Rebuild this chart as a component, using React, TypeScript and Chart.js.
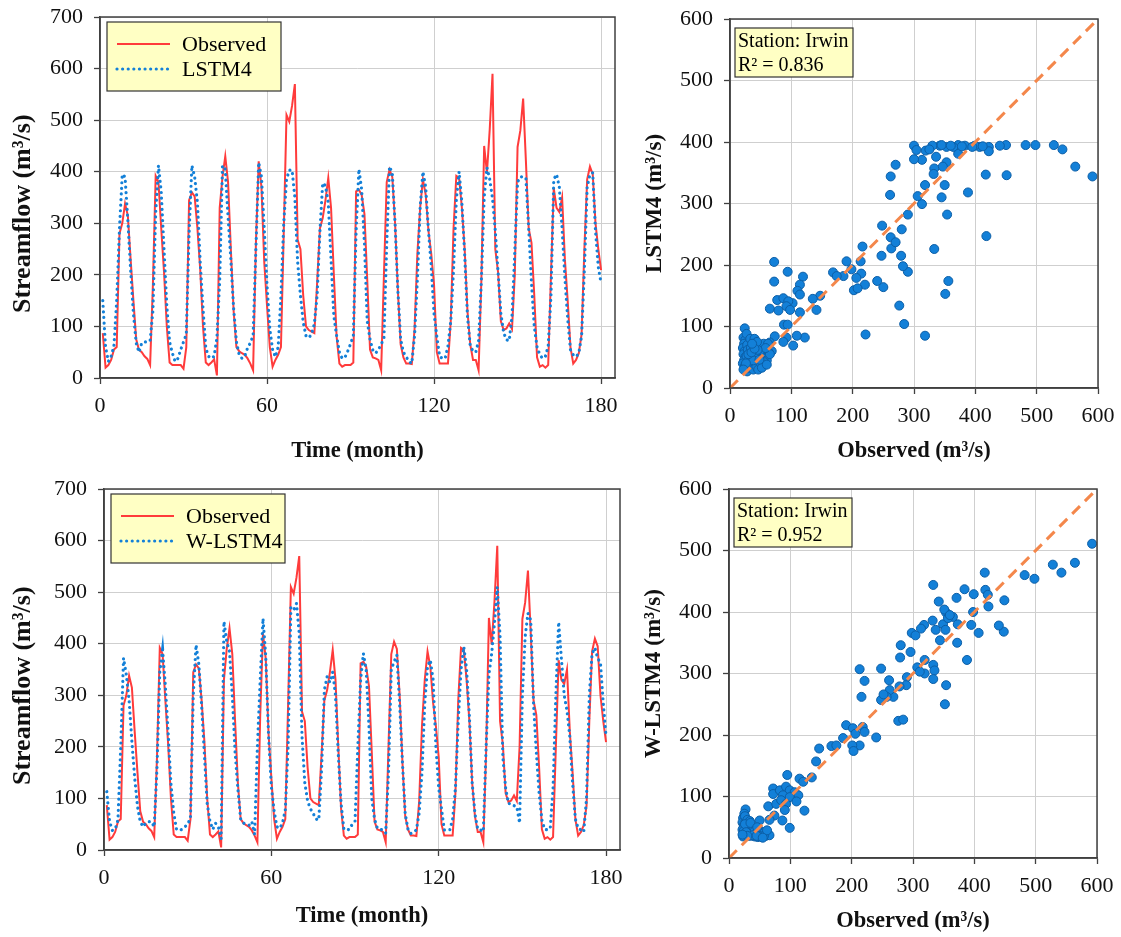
import React, { useEffect, useRef } from "react";
import { Chart, registerables } from "chart.js";
Chart.register(...registerables);

const SERIF = "'Liberation Serif', 'Times New Roman', serif";
const RED = "#ff3b3b";
const BLUE = "#1380d8";
const ORANGE = "#f4874b";
const GRID = "#cfcfcf";
const AXIS = "#404040";
const LEGEND_BG = "#ffffc4";

const timeTicks = [0, 60, 120, 180];
const flowTicks = [0, 100, 200, 300, 400, 500, 600, 700];
const scatterTicks = [0, 100, 200, 300, 400, 500, 600];

const timeTitle = "Time (month)";
const flowTitle = "Streamflow (m³/s)     ";
const obsTitle = "Observed (m³/s)";
const lstmTitle = "LSTM4 (m³/s)";
const wlstmTitle = "W-LSTM4 (m³/s)";
const observedLabel = "Observed";
const lstmLabel = "LSTM4";
const wlstmLabel = "W-LSTM4";
const stationText = "Station: Irwin";
const r2Lstm = "R² = 0.836";
const r2Wlstm = "R² = 0.952";

// monthly streamflow, months 1..180
const observed = [
  87, 20, 25, 35, 55, 60, 280, 300, 338, 315, 230, 150,
  75, 55, 50, 42, 37, 25, 180, 392, 380, 290, 205, 100,
  30, 25, 25, 25, 25, 18, 60, 345, 360, 352, 290, 210,
  100, 30, 25, 30, 36, 5, 330, 390, 430, 380, 250, 130,
  60, 52, 48, 45, 38, 28, 15, 260, 420, 370, 225, 140,
  60, 22, 35, 45, 60, 280, 510, 497, 528, 570, 268, 250,
  160, 100, 93, 90, 87, 185, 290, 310, 345, 388, 330, 200,
  80, 28, 22, 25, 25, 25, 30, 362, 365, 355, 318, 190,
  55, 40, 38, 35, 15, 200, 380, 404, 390, 300, 170, 65,
  40, 28, 28, 27, 95, 240, 330, 385, 355, 285, 240, 180,
  50, 28, 28, 28, 28, 110, 290, 392, 388, 330, 250, 130,
  65, 35, 35, 15, 190, 450, 398, 482, 590, 250, 205, 110,
  93, 96, 106, 95, 200, 448, 480, 542, 420, 290, 262, 160,
  40, 22, 25, 20, 25, 200, 368, 330, 322, 350, 230, 150,
  60, 28, 35, 48, 85, 250, 385, 410, 395, 300, 250, 209,
];

const lstm4 = [
  150, 60, 32, 42, 62, 150, 290, 395, 390, 306, 210, 125,
  68, 50, 68, 70, 70, 72, 130, 320, 412, 360, 250, 140,
  70, 48, 32, 38, 55, 70, 85, 280, 412, 390, 340, 225,
  135, 58, 42, 38, 42, 78, 190, 412, 405, 313, 230, 135,
  70, 45, 38, 42, 58, 68, 82, 250, 418, 390, 290, 180,
  95, 55, 41, 60, 160, 300, 385, 403, 403, 350, 225, 160,
  108, 82, 78, 85, 105, 160, 285, 378, 373, 340, 230, 120,
  82, 50, 38, 40, 52, 66, 82, 285, 405, 365, 260, 110,
  75, 54, 48, 55, 65, 78, 260, 410, 397, 300, 170, 75,
  50, 41, 32, 28, 82, 190, 330, 400, 370, 285, 215, 125,
  80, 42, 38, 38, 62, 110, 210, 345, 400, 340, 240, 120,
  62, 52, 50, 72, 190, 350, 408, 385, 348, 285, 205, 125,
  88, 74, 72, 120, 245, 380, 390, 390, 388, 290, 185, 100,
  60, 45, 38, 42, 62, 160, 385, 395, 370, 290, 195, 115,
  55, 45, 41, 48, 82, 210, 370, 395, 398, 285, 215, 184,
];

const wlstm4 = [
  113, 55, 38, 40, 58, 200, 372, 340, 290, 210, 140, 85,
  55, 45, 52, 55, 55, 45, 160, 345, 388, 318, 228, 128,
  72, 40, 38, 40, 45, 50, 62, 300, 398, 360, 280, 185,
  90, 55, 40, 52, 45, 22, 443, 405, 385, 300, 190, 118,
  60, 52, 50, 48, 55, 30, 200, 330, 449, 375, 222, 123,
  75, 45, 42, 52, 78, 200, 470, 465, 478, 420, 220, 130,
  95, 80, 71, 60, 58, 155, 310, 336, 325, 345, 300, 185,
  90, 40, 39, 40, 50, 56, 200, 330, 381, 349, 240, 100,
  60, 42, 40, 39, 33, 150, 350, 365, 378, 284, 170, 70,
  40, 32, 35, 39, 72, 150, 284, 356, 368, 330, 200, 120,
  80, 39, 39, 39, 60, 120, 250, 350, 394, 350, 260, 130,
  70, 40, 39, 36, 200, 340, 381, 440, 510, 414, 180, 120,
  90, 90, 86, 84, 52, 300, 414, 459, 446, 284, 190, 110,
  58, 40, 39, 42, 120, 300, 442, 370, 300, 270, 220, 130,
  60, 42, 39, 35, 100, 300, 381, 392, 372, 362, 284, 220,
];

// scatter pairs [observed, predicted]
const lstmScatter: [number, number][] = [
  [591, 344], [563, 360], [542, 388], [528, 395], [498, 395], [482, 395], [450, 395], [440, 394],
  [451, 346], [422, 392], [422, 385], [417, 347], [418, 247], [407, 392], [399, 394], [388, 318],
  [383, 394], [372, 395], [372, 381], [364, 392], [353, 392], [353, 367], [350, 330], [345, 310],
  [354, 282], [356, 174], [351, 153], [347, 360], [342, 394], [336, 376], [333, 357], [332, 348],
  [330, 394], [333, 226], [319, 386], [318, 330], [318, 85], [313, 371], [313, 299], [306, 312],
  [300, 394], [300, 372], [304, 387], [290, 282], [290, 189], [282, 198], [279, 215], [280, 258],
  [276, 134], [284, 104], [270, 363], [262, 344], [261, 314], [262, 245], [263, 227], [270, 237],
  [248, 264], [247, 215], [250, 164], [240, 174], [216, 230], [213, 206], [214, 186], [220, 168],
  [206, 179], [202, 159], [208, 162], [198, 193], [190, 206], [185, 182], [168, 188], [174, 182],
  [221, 87], [147, 150], [141, 127], [135, 145], [119, 181], [114, 168], [110, 158], [114, 152],
  [114, 123], [102, 138], [94, 189], [72, 205], [72, 173], [65, 129], [77, 143], [79, 126],
  [87, 146], [95, 141], [92, 133], [98, 127], [88, 103], [94, 103], [122, 82], [109, 85],
  [103, 69], [92, 82], [87, 75], [73, 84], [65, 74], [68, 60], [325, 388], [345, 395],
  [360, 394], [378, 393], [395, 392], [412, 393],
  [24, 97], [22, 82], [25, 78], [23, 72], [21, 65], [24, 60], [22, 55], [25, 50], [23, 45], [21, 40],
  [24, 35], [26, 30], [28, 27], [27, 88], [28, 70], [29, 62], [27, 52], [30, 45], [29, 38], [31, 33],
  [33, 80], [34, 65], [32, 55], [35, 48], [33, 42], [36, 35], [38, 30], [40, 80], [41, 72], [39, 58],
  [42, 50], [44, 42], [43, 35], [46, 30], [48, 70], [50, 62], [47, 55], [52, 48], [50, 40], [55, 72],
  [54, 60], [58, 50], [60, 45], [56, 42], [62, 72], [63, 58], [65, 55], [58, 65], [45, 62], [38, 45],
  [30, 55], [26, 40], [35, 58], [52, 33], [44, 75], [40, 64], [48, 46], [60, 38], [36, 72], [22, 30],
];

const wlstmScatter: [number, number][] = [
  [592, 511], [564, 480], [542, 464], [528, 477], [498, 454], [482, 460], [449, 419], [448, 368],
  [440, 378], [417, 464], [418, 436], [422, 428], [423, 409], [407, 366], [399, 429], [398, 400],
  [395, 379], [388, 322], [384, 437], [371, 423], [372, 350], [373, 380], [365, 392], [354, 399],
  [351, 404], [342, 417], [333, 444], [344, 354], [349, 380], [353, 371], [337, 371], [332, 386],
  [318, 379], [313, 373], [298, 366], [304, 362], [296, 335], [280, 346], [279, 326], [319, 322],
  [307, 310], [333, 314], [335, 305], [319, 300], [311, 303], [333, 291], [354, 281], [352, 250],
  [290, 294], [289, 281], [278, 279], [268, 262], [261, 289], [262, 273], [257, 262], [248, 257],
  [252, 266], [248, 308], [213, 307], [221, 288], [216, 262], [276, 223], [284, 225], [218, 213],
  [221, 205], [191, 216], [202, 211], [206, 202], [186, 195], [213, 183], [201, 183], [203, 174],
  [240, 196], [167, 182], [175, 183], [147, 178], [142, 157], [135, 131], [115, 129], [121, 124],
  [95, 135], [72, 113], [72, 104], [83, 110], [93, 116], [99, 110], [107, 107], [113, 102],
  [88, 102], [99, 99], [110, 92], [64, 84], [77, 88], [85, 94], [93, 88], [91, 78],
  [123, 77], [74, 69], [87, 61], [99, 49], [66, 62], [50, 61], [357, 390], [360, 395],
  [27, 79], [25, 72], [23, 65], [22, 58], [24, 52], [22, 46], [25, 40], [23, 35], [27, 60], [28, 50],
  [30, 44], [29, 38], [32, 55], [33, 48], [31, 40], [35, 36], [37, 52], [38, 45], [40, 40], [42, 35],
  [44, 48], [45, 42], [48, 38], [50, 45], [53, 37], [55, 40], [58, 42], [60, 36], [63, 40], [66, 37],
  [26, 68], [30, 62], [34, 60], [36, 42], [40, 50], [42, 44], [47, 34], [52, 35], [57, 36], [62, 45],
  [24, 44], [26, 55], [28, 42], [39, 37], [35, 57], [46, 50], [30, 36], [22, 38], [45, 36], [55, 33],
];

const diagonal = [0, 600];

type Geo = {
  yWidth: number; xHeight: number; padTop: number; padRight: number;
  yTitlePad: number; xTitlePad: number; tickPadY: number; tickPadX: number;
  yTitleSize: number;
};

function makeAxis(min: number, max: number, ticks: number[], title: string, horizontal: boolean, geo: Geo) {
  return {
    type: "linear" as const,
    min,
    max,
    afterBuildTicks: (s: any) => { s.ticks = ticks.map((v) => ({ value: v })); },
    afterFit: (s: any) => {
      if (horizontal) {
        s.height = geo.xHeight;
        s.paddingLeft = 0;
        s.paddingRight = 0;
      } else {
        s.width = geo.yWidth;
        s.paddingTop = 0;
        s.paddingBottom = 0;
      }
    },
    grid: { color: GRID, lineWidth: 1, drawTicks: true, tickLength: 6, tickColor: AXIS, tickWidth: 1.3 },
    border: { display: true, color: AXIS, width: 1.5 },
    ticks: {
      font: { family: SERIF, size: 22 },
      color: "#111",
      padding: horizontal ? geo.tickPadX : geo.tickPadY,
      maxRotation: 0,
      autoSkip: false,
      callback: (v: any) => String(v),
    },
    title: {
      display: true,
      text: title,
      color: "#111",
      font: { family: SERIF, size: horizontal ? 22.5 : geo.yTitleSize, weight: "bold" as const },
      padding: horizontal ? { top: 0, bottom: geo.xTitlePad } : { top: geo.yTitlePad, bottom: 0 },
    },
  };
}

function framePlugin(extra: (ctx: CanvasRenderingContext2D, area: any) => void) {
  return {
    id: "decor",
    afterDraw(chart: any) {
      const { ctx, chartArea: a } = chart;
      ctx.save();
      ctx.strokeStyle = AXIS;
      ctx.lineWidth = 1.5;
      ctx.strokeRect(a.left, a.top, a.right - a.left, a.bottom - a.top);
      extra(ctx, a);
      ctx.restore();
    },
  };
}

function drawLegend(ctx: CanvasRenderingContext2D, a: any, modelName: string) {
  const x = a.left + 7, y = a.top + 5, w = 174, h = 69;
  ctx.fillStyle = LEGEND_BG;
  ctx.fillRect(x, y, w, h);
  ctx.strokeStyle = "#333";
  ctx.lineWidth = 1.2;
  ctx.strokeRect(x, y, w, h);
  const rows = [
    { label: observedLabel, color: RED, dotted: false },
    { label: modelName, color: BLUE, dotted: true },
  ];
  rows.forEach((r, i) => {
    const ly = y + 22 + i * 25;
    ctx.beginPath();
    ctx.strokeStyle = r.color;
    ctx.lineWidth = r.dotted ? 3.2 : 2;
    ctx.lineCap = r.dotted ? "round" : "butt";
    ctx.setLineDash(r.dotted ? [0.01, 5.6] : []);
    ctx.moveTo(x + 10, ly);
    ctx.lineTo(x + 63, ly);
    ctx.stroke();
    ctx.setLineDash([]);
    ctx.fillStyle = "#000";
    ctx.font = `22px ${SERIF}`;
    ctx.textBaseline = "middle";
    ctx.textAlign = "left";
    ctx.fillText(r.label, x + 75, ly + 1);
  });
}

function drawStation(ctx: CanvasRenderingContext2D, a: any, r2: string) {
  const x = a.left + 5, y = a.top + 9, w = 118, h = 49;
  ctx.fillStyle = LEGEND_BG;
  ctx.fillRect(x, y, w, h);
  ctx.strokeStyle = "#333";
  ctx.lineWidth = 1.2;
  ctx.strokeRect(x, y, w, h);
  ctx.fillStyle = "#000";
  ctx.font = `20px ${SERIF}`;
  ctx.textBaseline = "middle";
  ctx.textAlign = "left";
  ctx.fillText(stationText, x + 3, y + 14);
  ctx.fillText(r2, x + 3, y + 38);
}

function timeConfig(model: number[], modelName: string, geo: Geo): any {
  return {
    type: "line",
    data: {
      datasets: [
        {
          label: observedLabel,
          data: observed.map((v, i) => ({ x: i + 1, y: v })),
          borderColor: RED,
          borderWidth: 2,
          pointRadius: 0,
          tension: 0,
          order: 2,
        },
        {
          label: modelName,
          data: model.map((v, i) => ({ x: i + 1, y: v })),
          borderColor: BLUE,
          borderWidth: 3.2,
          borderDash: [0.01, 5.6],
          borderCapStyle: "round",
          pointRadius: 0,
          tension: 0,
          order: 1,
        },
      ],
    },
    options: {
      responsive: false,
      animation: false,
      layout: { padding: { left: 0, top: geo.padTop, right: geo.padRight, bottom: 0 } },
      plugins: { legend: { display: false }, tooltip: { enabled: false } },
      scales: {
        x: makeAxis(0, 185, timeTicks, timeTitle, true, geo),
        y: makeAxis(0, 700, flowTicks, flowTitle, false, geo),
      },
    },
    plugins: [framePlugin((ctx, a) => drawLegend(ctx, a, modelName))],
  };
}

function scatterConfig(pairs: [number, number][], yTitle: string, r2: string, geo: Geo): any {
  return {
    type: "scatter",
    data: {
      datasets: [
        {
          type: "line",
          data: diagonal.map((v) => ({ x: v, y: v })),
          borderColor: ORANGE,
          borderWidth: 3,
          borderDash: [11, 7],
          pointRadius: 0,
          order: 0,
        },
        {
          data: pairs.map(([x, y]) => ({ x, y })),
          backgroundColor: BLUE,
          borderColor: "#0c5ea6",
          borderWidth: 1,
          pointRadius: 4.5,
          order: 1,
        },
      ],
    },
    options: {
      responsive: false,
      animation: false,
      layout: { padding: { left: 0, top: geo.padTop, right: geo.padRight, bottom: 0 } },
      plugins: { legend: { display: false }, tooltip: { enabled: false } },
      scales: {
        x: makeAxis(0, 600, scatterTicks, obsTitle, true, geo),
        y: makeAxis(0, 600, scatterTicks, yTitle, false, geo),
      },
    },
    plugins: [framePlugin((ctx, a) => drawStation(ctx, a, r2))],
  };
}

function ChartBox({ left, top, width, height, make }: { left: number; top: number; width: number; height: number; make: () => any }) {
  const ref = useRef<HTMLCanvasElement>(null);
  useEffect(() => {
    const chart = new Chart(ref.current as HTMLCanvasElement, make());
    return () => chart.destroy();
  }, []);
  return (
    <div style={{ position: "absolute", left, top, width, height }}>
      <canvas ref={ref} width={width} height={height} style={{ width, height, display: "block" }} />
    </div>
  );
}

export default function App() {
  const geoA: Geo = { yWidth: 100, xHeight: 92, padTop: 17, padRight: 25, yTitlePad: 8, xTitlePad: 5, tickPadY: 11, tickPadX: 9, yTitleSize: 26 };
  const geoB: Geo = { yWidth: 90, xHeight: 82, padTop: 19, padRight: 23, yTitlePad: 1, xTitlePad: 5, tickPadY: 11, tickPadX: 9, yTitleSize: 23 };
  const geoC: Geo = { yWidth: 104, xHeight: 87, padTop: 19, padRight: 20, yTitlePad: 8, xTitlePad: 7, tickPadY: 11, tickPadX: 9, yTitleSize: 26 };
  const geoD: Geo = { yWidth: 89, xHeight: 79, padTop: 19, padRight: 24, yTitlePad: 0, xTitlePad: 2, tickPadY: 11, tickPadX: 9, yTitleSize: 23 };
  return (
    <div style={{ position: "absolute", left: 0, top: 0, width: 1121, height: 937, background: "#fff" }}>
      <ChartBox left={0} top={0} width={640} height={470} make={() => timeConfig(lstm4, lstmLabel, geoA)} />
      <ChartBox left={640} top={0} width={481} height={470} make={() => scatterConfig(lstmScatter, lstmTitle, r2Lstm, geoB)} />
      <ChartBox left={0} top={470} width={640} height={467} make={() => timeConfig(wlstm4, wlstmLabel, geoC)} />
      <ChartBox left={640} top={470} width={481} height={467} make={() => scatterConfig(wlstmScatter, wlstmTitle, r2Wlstm, geoD)} />
    </div>
  );
}
